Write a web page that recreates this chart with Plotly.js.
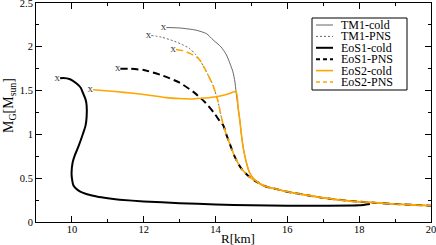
<!DOCTYPE html>
<html><head><meta charset="utf-8">
<script src="https://cdn.plot.ly/plotly-3.0.1.min.js"></script>
<style>html,body{margin:0;padding:0;background:#fff}#c{width:436px;height:245px}</style>
</head><body><div id="c"></div>
<script>
// ---- data ----
const tm1ColdR = [12.63,13.0,13.46,13.75,13.93,14.15,14.3,14.48,14.54,14.57,14.63,14.68,14.72,14.77,14.84,14.93,15.05,15.22,15.4,15.7,16.0,16.5,17.0,17.5,18.0,18.5,19.0,19.5,20.0];
const tm1ColdM = [2.22,2.215,2.19,2.15,2.08,2.0,1.91,1.72,1.6,1.49,1.3,1.15,1.0,0.85,0.71,0.58,0.5,0.44,0.405,0.375,0.345,0.31,0.275,0.25,0.232,0.218,0.205,0.195,0.186];
const tm1PnsR = [12.21,12.5,12.81,13.05,13.28,13.45,13.56,13.74,13.93,14.06,14.15,14.22,14.3,14.39,14.53,14.7,14.9,15.1,15.4,15.7,16.0,16.5,17.0,17.5,18.0,18.5,19.0,19.5,20.0];
const tm1PnsM = [2.13,2.11,2.07,2.03,1.98,1.91,1.85,1.72,1.56,1.39,1.22,1.1,1.0,0.9,0.75,0.62,0.53,0.47,0.405,0.375,0.345,0.31,0.275,0.25,0.232,0.218,0.205,0.195,0.186];
const eos1ColdR = [9.67,9.76,9.95,10.13,10.25,10.31,10.38,10.41,10.41,10.38,10.31,10.18,10.08,10.02,9.99,10.0,10.04,10.12,10.22,10.4,10.69,11.0,11.33,12.0,13.0,14.0,15.0,16.0,17.0,18.0,18.3];
const eos1ColdM = [1.64,1.645,1.63,1.58,1.53,1.47,1.4,1.33,1.2,1.1,1.01,0.86,0.76,0.68,0.56,0.5,0.42,0.38,0.35,0.32,0.29,0.27,0.255,0.235,0.215,0.2,0.19,0.186,0.186,0.19,0.205];
const eos1PnsR = [11.35,11.6,12.0,12.54,13.0,13.4,13.7,13.95,14.12,14.22,14.3,14.39,14.53,14.7,14.9,15.1,15.4,15.7,16.0,16.5,17.0,17.5,18.0,18.5,19.0,19.5,20.0];
const eos1PnsM = [1.75,1.75,1.735,1.67,1.59,1.48,1.37,1.25,1.15,1.1,1.0,0.9,0.75,0.62,0.53,0.47,0.405,0.375,0.345,0.31,0.275,0.25,0.232,0.218,0.205,0.195,0.186];
const eos2ColdR = [10.59,11.2,11.7,12.2,12.63,13.0,13.37,13.7,14.02,14.3,14.57,14.63,14.68,14.72,14.77,14.84,14.93,15.05,15.22,15.4,15.7,16.0,16.5,17.0,17.5,18.0,18.5,19.0,19.5,20.0];
const eos2ColdM = [1.51,1.49,1.47,1.445,1.42,1.41,1.405,1.415,1.43,1.455,1.49,1.3,1.15,1.0,0.85,0.71,0.58,0.5,0.44,0.405,0.375,0.345,0.31,0.275,0.25,0.232,0.218,0.205,0.195,0.186];
const eos2PnsR = [12.9,13.1,13.28,13.45,13.56,13.74,13.93,14.06,14.15,14.22,14.3,14.39,14.53,14.7,14.9,15.1,15.4,15.7,16.0,16.5,17.0,17.5,18.0,18.5,19.0,19.5,20.0];
const eos2PnsM = [1.97,1.955,1.925,1.89,1.85,1.72,1.56,1.39,1.22,1.1,1.0,0.9,0.75,0.62,0.53,0.47,0.405,0.375,0.345,0.31,0.275,0.25,0.232,0.218,0.205,0.195,0.186];
const seriesNames = ['TM1-cold','TM1-PNS','EoS1-cold','EoS1-PNS','EoS2-cold','EoS2-PNS'];
const xTickVals = [10,12,14,16,18,20];
const yTickVals = [0,0.5,1,1.5,2,2.5];
const yTickText = ['0','0.5','1','1.5','2','2.5'];
const xTitle = 'R[km]';
const yTitle = 'M<sub>G</sub>[M<sub>sun</sub>]';

// ---- styles ----
const SERIF = "Liberation Serif, Times New Roman, Times, serif";
const ORANGE = '#FFA500';
const styles = [
  {color:'#555', width:0.9, dash:'solid'},
  {color:'#555', width:0.9, dash:'2px,2px'},
  {color:'#000', width:2, dash:'solid'},
  {color:'#000', width:2, dash:'7px,4px'},
  {color:ORANGE, width:1.6, dash:'solid'},
  {color:ORANGE, width:1.6, dash:'7px,4px'}
];
const curves = [[tm1ColdR,tm1ColdM],[tm1PnsR,tm1PnsM],[eos1ColdR,eos1ColdM],[eos1PnsR,eos1PnsM],[eos2ColdR,eos2ColdM],[eos2PnsR,eos2PnsM]];
const traces = curves.map((c,i)=>({x:c[0],y:c[1],type:'scatter',mode:'lines',name:seriesNames[i],
  line:{color:styles[i].color,width:styles[i].width,dash:styles[i].dash,shape:'spline',smoothing:0.6},hoverinfo:'skip'}));
traces.push({x:curves.map(c=>c[0][0]),y:curves.map(c=>c[1][0]),type:'scatter',mode:'text',text:curves.map(()=>'x'),
  textposition:'middle left',textfont:{family:SERIF,size:11,color:'#444'},hoverinfo:'skip'});

const L=36,R=5,T=3,B=23,W=436,H=245;
const pw=W-L-R, ph=H-T-B;
const px2x=p=>(p-L)/pw, py2y=p=>(H-B-p)/ph;

const shapes=[{type:'rect',xref:'paper',yref:'paper',x0:px2x(312),x1:px2x(407),y0:py2y(90),y1:py2y(18),
  line:{color:'#000',width:1},fillcolor:'#fff',layer:'above'}];
const annotations=[];
const rowY=[25,36.4,47.8,59.2,70.6,82];
seriesNames.forEach((n,i)=>{
  shapes.push({type:'line',xref:'paper',yref:'paper',x0:px2x(316),x1:px2x(333),y0:py2y(rowY[i]),y1:py2y(rowY[i]),
    line:{color:styles[i].color,width:styles[i].width,dash:styles[i].dash==='7px,4px'?'4px,3px':styles[i].dash},layer:'above'});
  annotations.push({xref:'paper',yref:'paper',x:px2x(339),y:py2y(rowY[i]),xanchor:'left',yanchor:'middle',showarrow:false,
    text:n,font:{family:SERIF,size:12,color:'#000'}});
});
annotations.push({xref:'paper',yref:'paper',x:px2x(238),y:py2y(238.5),xanchor:'center',yanchor:'middle',showarrow:false,
  text:xTitle,font:{family:SERIF,size:13,color:'#000'}});
annotations.push({xref:'paper',yref:'paper',x:px2x(9),y:py2y(106),xanchor:'center',yanchor:'middle',showarrow:false,textangle:-90,
  text:yTitle,font:{family:SERIF,size:14,color:'#000'}});

function ax(extra){
  return Object.assign({showgrid:false,zeroline:false,showline:true,linecolor:'#000',linewidth:1,mirror:'ticks',
    ticks:'inside',ticklen:6,tickwidth:1,tickcolor:'#000',automargin:false,ticklabeloverflow:'allow',
    tickfont:{family:SERIF,size:10.5,color:'#000'}},extra);
}
const layout={
  width:W,height:H,margin:{l:L,r:R,t:T,b:B},paper_bgcolor:'#fff',plot_bgcolor:'#fff',showlegend:false,
  font:{family:SERIF},
  xaxis:ax({range:[9,20.0005],tickmode:'array',tickvals:xTickVals,ticktext:xTickVals.map(String),ticklabelstandoff:-3,
    minor:{dtick:1,tick0:9,ticks:'inside',ticklen:3,tickcolor:'#000',showgrid:false}}),
  yaxis:ax({range:[0,2.5002],tickmode:'array',tickvals:yTickVals,ticktext:yTickText,
    minor:{dtick:0.25,tick0:0,ticks:'inside',ticklen:3,tickcolor:'#000',showgrid:false}}),
  shapes:shapes,annotations:annotations
};
Plotly.newPlot('c',traces,layout,{staticPlot:true,displayModeBar:false});
</script></body></html>
